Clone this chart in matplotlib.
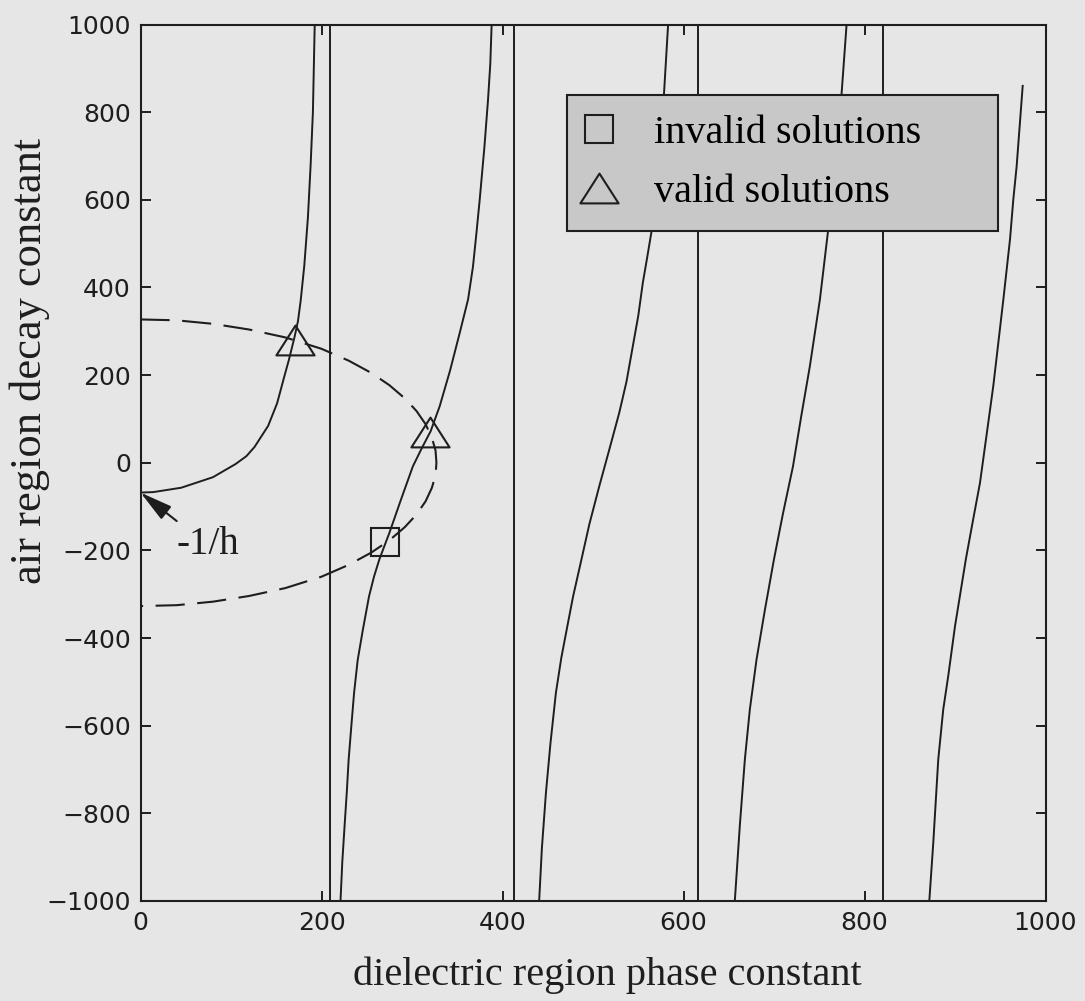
# dispersion plot: air region decay constant vs dielectric region phase constant
import matplotlib.pyplot as plt
from matplotlib.path import Path

# solid branches, values
b1_x = [0, 14, 45, 80, 105, 117, 126, 141, 151, 158, 164, 170, 174, 177, 181, 185, 188, 190.5, 192.5]
b1_y = [-68, -67, -57, -33, -3, 15, 36, 84, 136, 190, 235, 285, 323, 370, 450, 560, 680, 800, 1000]

b2_x = [221, 223, 225.5, 228, 230, 233, 236, 240, 245.8, 252.5, 258, 264, 275, 288, 301, 311,
        320.6, 330.6, 342, 352.7, 362, 367.4, 371, 374.8, 380, 384, 386.5, 388]
b2_y = [-1000, -910, -829, -750, -677, -600, -525, -450, -380, -305, -260, -220, -160, -83, -8, 34,
        72, 129, 210, 296, 373, 448, 520, 600, 720, 828, 910, 1000]

b3_x = [440.5, 443.5, 448, 453, 459, 465, 471, 478, 486, 496, 507, 518, 529, 537, 544, 550,
        555, 560, 565, 572, 578.5, 583]
b3_y = [-1000, -880, -753, -640, -525, -445, -380, -305, -232, -140, -53, 30, 114, 185, 266, 335,
        410, 470, 532, 680, 844, 1000]

b4_x = [656.7, 662.2, 667.8, 673.3, 680.7, 690, 700, 710, 721, 730, 739.6, 750.7, 759.9, 767.5,
        774.6, 780.2]
b4_y = [-1000, -829, -677, -563, -449, -335, -220, -115, -8, 105, 220, 372, 532, 690,
        840, 1000]

b5_x = [871.6, 876, 881.5, 887, 892.5, 900, 912, 920, 927.6, 935, 942.3, 953.4, 960.8, 964.4,
        968.1, 974.8]
b5_y = [-1000, -867, -677, -563, -487, -373, -220, -130, -46, 65, 175, 372, 510, 600,
        676, 860]

branches = [(b1_x, b1_y), (b2_x, b2_y), (b3_x, b3_y), (b4_x, b4_y), (b5_x, b5_y)]

# near-vertical jumps between branches
jump_x = [209, 412.5, 616, 820.5]

# dashed circle, top to bottom
circ_x = [0, 40, 80, 120, 160, 200, 230, 255, 275, 292, 305, 315, 322, 326, 327,
          326, 322, 315, 305, 292, 275, 255, 230, 200, 160, 120, 80, 40, 0]
circ_y = [327, 325, 317, 304, 286, 260, 233, 205, 177, 147, 118, 88, 57, 28, 0,
          -28, -57, -88, -118, -147, -177, -205, -233, -260, -286, -304, -317, -325, -327]

# solutions
valid_x = [171, 320]
valid_y = [281, 70]
invalid_x = [270]
invalid_y = [-180]

xticks = [0, 200, 400, 600, 800, 1000]
yticks = [-1000, -800, -600, -400, -200, 0, 200, 400, 600, 800, 1000]

INK = '#1e1e1e'
BG = '#e6e6e6'
SERIF = 'Liberation Serif'

fig = plt.figure(figsize=(10.85, 10.01), dpi=100, facecolor=BG)
ax = fig.add_axes([140.5 / 1085, 1 - 901 / 1001, 905 / 1085, 876.5 / 1001])
ax.set_facecolor(BG)

for bx, by in branches:
    ax.plot(bx, by, color=INK, lw=1.4)
for xv in jump_x:
    ax.axvline(xv, color=INK, lw=1.4)

ax.plot(circ_x, circ_y, color=INK, lw=1.5, ls=(0, (14, 6)))

tri = Path([(-1, -0.78), (1, -0.78), (0, 0.78), (-1, -0.78)],
           [Path.MOVETO, Path.LINETO, Path.LINETO, Path.CLOSEPOLY])
sq_h, = ax.plot(invalid_x, invalid_y, ls='none', marker='s', ms=20,
                mfc='none', mec=INK, mew=1.5, label='invalid solutions')
tri_h, = ax.plot(valid_x, valid_y, ls='none', marker=tri, ms=27.5,
                 mfc='none', mec=INK, mew=1.5, label='valid solutions')

leg = ax.legend(handles=[sq_h, tri_h], loc='upper left',
                bbox_to_anchor=(0.471, 0.920, 0.477, 0.0), mode='expand',
                borderaxespad=0, borderpad=0.5, labelspacing=0.55,
                handlelength=0.6, handletextpad=1.06, fancybox=False,
                framealpha=1, prop={'family': SERIF, 'size': 29})
leg.get_frame().set_facecolor('#c8c8c8')
leg.get_frame().set_edgecolor(INK)
leg.get_frame().set_linewidth(1.5)

ax.annotate('', xy=(0, -68), xytext=(40, -133),
            arrowprops=dict(arrowstyle='-|>,head_length=1.0,head_width=0.25',
                            mutation_scale=20, color=INK, lw=1.5,
                            shrinkA=0, shrinkB=0))
ax.text(40, -209, '-1/h', family=SERIF, fontsize=28, color=INK,
        ha='left', va='baseline')

ax.set_xlim(0, 1000)
ax.set_ylim(-1000, 1000)
ax.set_xticks(xticks)
ax.set_yticks(yticks)
ax.tick_params(direction='in', length=7, width=1.4, top=True, right=True,
               labelsize=18, pad=7, color=INK, labelcolor=INK)
for s in ax.spines.values():
    s.set_linewidth(1.5)
    s.set_color(INK)

ax.set_xlabel('dielectric region phase constant', family=SERIF, fontsize=29,
              color=INK, va='center')
ax.xaxis.set_label_coords(0.516, -0.0845)
ax.set_ylabel('air region decay constant', family=SERIF, fontsize=32,
              color=INK, va='center')
ax.yaxis.set_label_coords(-0.122, 0.616)

fig.savefig('out.png', dpi=100, facecolor=BG)
